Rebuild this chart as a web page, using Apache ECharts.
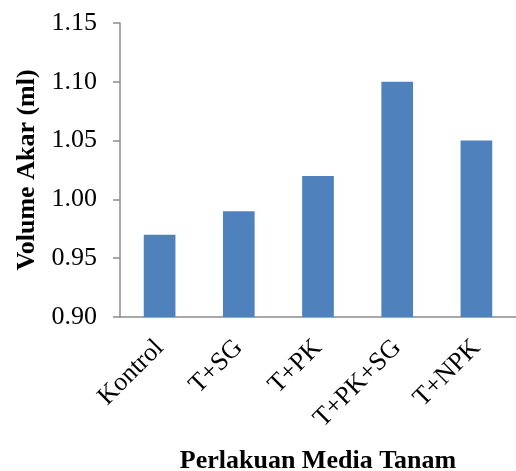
<!DOCTYPE html>
<html>
<head>
<meta charset="utf-8">
<script src="https://cdn.jsdelivr.net/npm/echarts@6/dist/echarts.min.js"></script>
<style>html,body{margin:0;padding:0;background:#fff}#c{width:516px;height:471px}</style>
</head>
<body>
<div id="c"></div>
<script>
const categories = ['Kontrol', 'T+SG', 'T+PK', 'T+PK+SG', 'T+NPK'];
const values = [0.97, 0.99, 1.02, 1.10, 1.05];
const yTicks = { min: 0.90, max: 1.15, interval: 0.05 };

const chart = echarts.init(document.getElementById('c'));
const serif = '"Liberation Serif", "Times New Roman", serif';
chart.setOption({
  animation: false,
  grid: { left: 120, right: 0, top: 23, bottom: 154, containLabel: false, outerBoundsMode: 'none' },
  xAxis: {
    type: 'category',
    data: categories,
    name: 'Perlakuan Media Tanam',
    nameLocation: 'middle',
    nameGap: 131,
    nameTextStyle: { fontFamily: serif, fontSize: 26, fontWeight: 'bold', color: '#000' },
    axisLine: { lineStyle: { color: '#8c8c8c', width: 1.5 } },
    axisTick: { show: false },
    axisLabel: { rotate: 45, fontFamily: serif, fontSize: 26, color: '#000', margin: 27 }
  },
  yAxis: {
    type: 'value',
    min: yTicks.min, max: yTicks.max, interval: yTicks.interval,
    name: 'Volume Akar (ml)',
    nameLocation: 'middle',
    nameGap: 80,
    nameTextStyle: { fontFamily: serif, fontSize: 26, fontWeight: 'bold', color: '#000' },
    splitLine: { show: false },
    axisLine: { show: true, lineStyle: { color: '#8c8c8c', width: 1.5 } },
    axisTick: { show: true, length: 7, lineStyle: { color: '#8c8c8c', width: 1.5 } },
    axisLabel: { fontFamily: serif, fontSize: 26, color: '#000', margin: 23, formatter: v => v.toFixed(2) }
  },
  series: [{
    type: 'bar',
    data: values,
    barWidth: '40%',
    itemStyle: { color: '#4f81bd' }
  }]
});
</script>
</body>
</html>
